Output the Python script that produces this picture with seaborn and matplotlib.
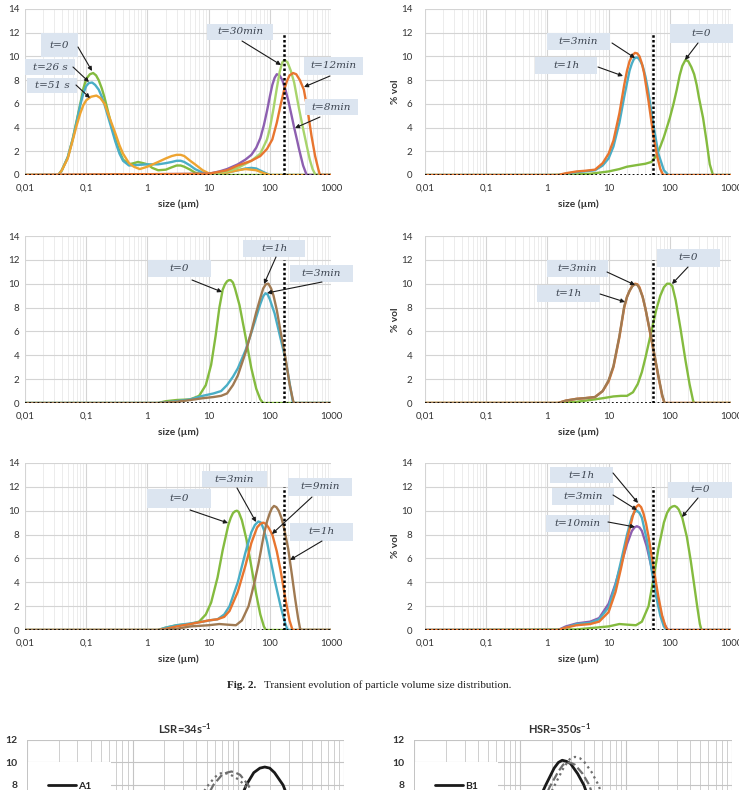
import numpy as np
import pandas as pd
import matplotlib
matplotlib.use("Agg")
import matplotlib.pyplot as plt
import seaborn as sns
from matplotlib.patches import Rectangle, FancyArrowPatch
from matplotlib.ticker import LogLocator, NullFormatter

# ---------------- data (size in µm, % vol) ----------------
xticks = [0.01, 0.1, 1, 10, 100, 1000]
xticklabels = ["0,01", "0,1", "1", "10", "100", "1000"]
yticks_top = [0, 2, 4, 6, 8, 10, 12, 14]
cut_left = 171
cut_right = 53
cut_height = 12

# Panel 1 (top-left)
p1_t0_x = [0.01, 0.035, 0.04, 0.05, 0.06, 0.07, 0.08, 0.09, 0.1, 0.115, 0.13, 0.145, 0.16, 0.18, 0.2, 0.25, 0.3, 0.35, 0.4, 0.5, 0.6, 0.7, 0.85, 1, 1.2, 1.5, 2, 2.5, 3, 3.5, 4, 5, 6, 8, 10, 1000]
p1_t0_y = [0, 0, 0.4, 1.5, 3.0, 4.6, 6.0, 7.3, 8.1, 8.5, 8.6, 8.4, 8.0, 7.3, 6.5, 4.5, 3.0, 2.0, 1.3, 0.9, 1.0, 1.1, 1.0, 0.9, 0.6, 0.4, 0.45, 0.65, 0.8, 0.8, 0.7, 0.45, 0.2, 0.05, 0, 0]
p1_t26_x = [0.01, 0.035, 0.04, 0.05, 0.06, 0.07, 0.08, 0.09, 0.1, 0.11, 0.125, 0.14, 0.16, 0.18, 0.2, 0.25, 0.3, 0.35, 0.4, 0.5, 0.7, 1, 1.5, 2, 2.5, 3, 3.5, 4, 5, 6, 8, 10, 20, 30, 40, 50, 60, 75, 100, 1000]
p1_t26_y = [0, 0, 0.4, 1.5, 3.0, 4.5, 5.9, 6.9, 7.5, 7.75, 7.8, 7.6, 7.2, 6.6, 5.9, 4.2, 2.8, 1.8, 1.2, 0.8, 0.85, 0.9, 0.9, 1.0, 1.1, 1.2, 1.2, 1.1, 0.8, 0.5, 0.2, 0.1, 0.2, 0.4, 0.55, 0.6, 0.55, 0.3, 0, 0]
p1_t51_x = [0.01, 0.035, 0.04, 0.05, 0.06, 0.07, 0.08, 0.09, 0.1, 0.12, 0.147, 0.17, 0.2, 0.25, 0.3, 0.35, 0.4, 0.5, 0.6, 0.75, 1, 1.5, 2, 2.5, 3, 3.5, 4, 5, 6, 8, 10, 20, 30, 40, 60, 80, 100, 1000]
p1_t51_y = [0, 0, 0.4, 1.4, 2.9, 4.2, 5.2, 5.9, 6.3, 6.6, 6.7, 6.5, 6.0, 4.6, 3.5, 2.5, 1.8, 1.0, 0.7, 0.5, 0.7, 1.1, 1.4, 1.6, 1.7, 1.7, 1.6, 1.2, 0.9, 0.4, 0.15, 0.2, 0.4, 0.5, 0.4, 0.15, 0, 0]
p1_t8_x = [0.01, 10, 15, 20, 30, 40, 50, 60, 70, 80, 90, 100, 110, 120, 130, 145, 160, 180, 200, 225, 250, 280, 300, 350, 400, 1000]
p1_t8_y = [0, 0.1, 0.3, 0.5, 0.9, 1.3, 1.7, 2.3, 3.1, 4.2, 5.4, 6.6, 7.6, 8.2, 8.5, 8.4, 8.0, 7.2, 6.3, 5.1, 4.0, 2.9, 2.2, 0.8, 0, 0]
p1_t12_x = [0.01, 10, 20, 30, 50, 70, 90, 110, 130, 150, 170, 190, 210, 240, 270, 310, 360, 420, 480, 550, 620, 660, 1000]
p1_t12_y = [0, 0.1, 0.4, 0.8, 1.2, 1.6, 2.2, 3.0, 4.4, 5.9, 7.1, 7.9, 8.4, 8.6, 8.5, 8.0, 7.2, 5.3, 3.3, 1.6, 0.5, 0, 0]
p1_t30_x = [0.01, 10, 20, 30, 50, 70, 90, 100, 115, 130, 145, 160, 175, 195, 220, 250, 300, 350, 400, 450, 500, 560, 1000]
p1_t30_y = [0, 0.05, 0.3, 0.6, 1.2, 1.8, 3.0, 3.9, 5.6, 7.3, 8.7, 9.5, 9.7, 9.5, 8.8, 7.8, 5.6, 3.9, 2.5, 1.3, 0.5, 0, 0]

# Panel 2 (top-right)
p2_t0_x = [0.01, 1, 3, 5, 10, 15, 20, 30, 40, 50, 60, 70, 80, 100, 115, 130, 145, 160, 180, 200, 225, 250, 275, 300, 350, 400, 450, 500, 520, 1000]
p2_t0_y = [0, 0, 0.05, 0.1, 0.3, 0.5, 0.7, 0.85, 0.95, 1.1, 1.6, 2.4, 3.2, 4.8, 6.0, 7.2, 8.4, 9.2, 9.7, 9.6, 9.1, 8.5, 7.6, 6.5, 4.8, 2.8, 0.9, 0.1, 0, 0]
p2_t3_x = [0.01, 1.5, 2, 3, 4, 6, 8, 10, 12, 15, 18, 20, 22, 24.5, 27, 29.5, 32, 35, 38, 45, 54, 62, 70, 78, 1000]
p2_t3_y = [0, 0, 0.15, 0.3, 0.35, 0.45, 1.0, 1.8, 2.9, 5.2, 7.6, 8.8, 9.6, 10.1, 10.3, 10.25, 10.0, 9.4, 8.6, 6.2, 3.3, 1.6, 0.5, 0, 0]
p2_t1h_x = [0.01, 1.5, 2, 3, 4, 6, 8, 10, 12, 15, 18, 22, 24, 26, 28, 30, 33, 36, 40, 44, 54, 65, 80, 95, 1000]
p2_t1h_y = [0, 0, 0.1, 0.25, 0.3, 0.4, 0.8, 1.4, 2.4, 4.4, 6.6, 8.8, 9.4, 9.8, 9.9, 9.9, 9.6, 9.2, 8.3, 7.2, 4.2, 1.8, 0.4, 0, 0]

# Panel 3 (middle-left)
p3_t0_x = [0.01, 1.5, 2, 3, 5, 7, 9, 11, 13, 15, 17, 18.5, 20, 21.5, 23, 25, 27, 32, 40, 50, 60, 70, 78, 1000]
p3_t0_y = [0, 0, 0.15, 0.25, 0.3, 0.6, 1.5, 3.2, 5.6, 8.0, 9.5, 9.95, 10.2, 10.3, 10.3, 10.1, 9.6, 8.2, 5.6, 2.9, 1.2, 0.3, 0, 0]
p3_t3_x = [0.01, 1.5, 3, 5, 8, 12, 16, 20, 25, 30, 40, 50, 60, 70, 78, 85, 92, 100, 120, 150, 180, 210, 240, 1000]
p3_t3_y = [0, 0, 0.15, 0.3, 0.6, 0.8, 1.0, 1.5, 2.2, 2.9, 4.4, 5.9, 7.2, 8.3, 8.95, 9.2, 9.1, 8.7, 7.5, 5.4, 3.7, 1.7, 0, 0]
p3_t1h_x = [0.01, 1.5, 3, 5, 8, 12, 16, 20, 25, 30, 40, 50, 60, 70, 78, 86, 95, 105, 115, 130, 150, 180, 210, 240, 250, 1000]
p3_t1h_y = [0, 0, 0.1, 0.25, 0.4, 0.5, 0.6, 0.8, 1.5, 2.3, 4.2, 6.0, 7.6, 8.8, 9.6, 9.95, 10.0, 9.6, 9.0, 7.8, 6.0, 3.8, 1.6, 0.2, 0, 0]

# Panel 4 (middle-right)
p4_t0_x = [0.01, 1.5, 3, 5, 8, 12, 16, 20, 25, 30, 35, 40, 50, 60, 70, 80, 90, 100, 110, 125, 150, 180, 210, 240, 250, 1000]
p4_t0_y = [0, 0, 0.1, 0.25, 0.4, 0.55, 0.6, 0.6, 0.9, 1.6, 2.6, 3.8, 6.0, 7.8, 9.0, 9.7, 10.0, 10.0, 9.8, 8.6, 6.2, 3.6, 1.6, 0.2, 0, 0]
p4_t3_x = [0.01, 1.5, 2, 3, 4, 6, 8, 10, 12, 15, 18, 20, 22, 24.5, 27, 29.5, 32, 36, 40, 48, 55, 65, 75, 82, 1000]
p4_t3_y = [0, 0, 0.2, 0.35, 0.4, 0.5, 1.0, 1.8, 3.0, 5.5, 8.0, 8.9, 9.4, 9.85, 10.0, 9.95, 9.7, 8.9, 7.9, 5.8, 4.2, 2.2, 0.6, 0, 0]
p4_t1h_x = [0.01, 1.5, 2, 3, 4, 6, 8, 10, 12, 15, 18, 20, 22, 24.5, 27, 29.5, 32, 36, 40, 48, 55, 65, 75, 82, 1000]
p4_t1h_y = [0, 0, 0.2, 0.35, 0.4, 0.5, 1.0, 1.9, 3.1, 5.6, 8.1, 8.9, 9.4, 9.8, 9.95, 9.9, 9.6, 8.9, 7.9, 5.9, 4.3, 2.3, 0.7, 0, 0]

# Panel 5 (bottom-left)
p5_t0_x = [0.01, 1.5, 2, 3, 5, 7, 9, 11, 14, 17, 21, 23, 25, 27, 29, 31, 35, 42, 50, 60, 70, 80, 86, 1000]
p5_t0_y = [0, 0, 0.2, 0.4, 0.5, 0.7, 1.3, 2.3, 4.4, 6.7, 8.8, 9.4, 9.8, 9.95, 10.0, 9.9, 9.2, 7.5, 5.3, 3.0, 1.3, 0.3, 0, 0]
p5_t3_x = [0.01, 1.5, 2, 3, 5, 8, 10, 14, 18, 22, 30, 40, 50, 57, 65, 72, 80, 90, 100, 120, 150, 175, 195, 1000]
p5_t3_y = [0, 0, 0.2, 0.4, 0.55, 0.7, 0.8, 0.9, 1.3, 2.0, 4.0, 6.5, 8.2, 8.8, 9.1, 9.0, 8.4, 7.4, 6.2, 4.2, 2.0, 0.7, 0, 0]
p5_t9_x = [0.01, 1.5, 2, 3, 5, 8, 10, 14, 18, 22, 30, 40, 50, 62, 70, 78, 86, 95, 110, 130, 150, 180, 210, 235, 1000]
p5_t9_y = [0, 0, 0.1, 0.3, 0.5, 0.7, 0.8, 0.9, 1.1, 1.6, 3.2, 5.4, 7.3, 8.6, 8.9, 9.0, 8.9, 8.6, 8.0, 6.6, 5.0, 2.6, 0.8, 0, 0]
p5_t1h_x = [0.01, 1.5, 3, 5, 10, 15, 20, 28, 35, 45, 55, 65, 80, 90, 100, 108, 117, 128, 140, 155, 170, 200, 230, 260, 290, 310, 320, 1000]
p5_t1h_y = [0, 0, 0.1, 0.3, 0.4, 0.5, 0.45, 0.4, 0.8, 2.0, 3.8, 5.5, 8.0, 9.1, 9.8, 10.2, 10.4, 10.3, 10.0, 9.4, 8.6, 6.8, 4.6, 2.6, 1.0, 0.2, 0, 0]

# Panel 6 (bottom-right)
p6_t0_x = [0.01, 3, 10, 15, 20, 28, 35, 45, 55, 65, 80, 90, 100, 110, 120, 130, 140, 160, 190, 220, 250, 280, 310, 330, 1000]
p6_t0_y = [0, 0.05, 0.3, 0.5, 0.45, 0.4, 0.7, 2.0, 4.5, 6.8, 9.0, 9.8, 10.2, 10.35, 10.4, 10.3, 10.1, 9.4, 7.8, 5.8, 3.8, 2.0, 0.5, 0, 0]
p6_t1h_x = [0.01, 1.5, 2, 3, 5, 7, 10, 13, 16, 20, 25, 28, 31, 34, 37, 41, 45, 55, 65, 75, 85, 92, 1000]
p6_t1h_y = [0, 0, 0.2, 0.4, 0.5, 0.7, 1.5, 3.2, 5.2, 7.6, 9.6, 10.3, 10.5, 10.3, 9.8, 8.9, 7.8, 5.0, 2.8, 1.2, 0.3, 0, 0]
p6_t3_x = [0.01, 1.5, 2, 3, 5, 7, 10, 13, 16, 20, 24, 26.5, 29, 32, 35, 42, 50, 60, 70, 80, 88, 1000]
p6_t3_y = [0, 0, 0.2, 0.5, 0.6, 0.9, 1.9, 3.8, 5.8, 8.0, 9.5, 9.9, 10.0, 9.8, 9.4, 7.6, 5.2, 2.8, 1.2, 0.3, 0, 0]
p6_t10_x = [0.01, 1.5, 2, 3, 5, 7, 10, 13, 16, 20, 24, 26.5, 29, 32, 35, 42, 50, 60, 70, 80, 90, 95, 1000]
p6_t10_y = [0, 0, 0.3, 0.55, 0.7, 1.0, 2.2, 3.9, 5.5, 7.2, 8.3, 8.6, 8.7, 8.6, 8.3, 7.0, 5.3, 3.2, 1.6, 0.6, 0.1, 0, 0]

# Lower figure (partially visible)
lsr_a1_x = [1, 20, 40, 60, 80, 100, 119, 140, 160, 178, 198, 220, 265, 320, 400, 500, 600, 1000]
lsr_a1_y = [0, 0, 0.5, 1.8, 4.0, 6.3, 8.0, 9.1, 9.5, 9.6, 9.5, 9.1, 8.0, 6.0, 2.8, 0.6, 0, 0]
lsr_a2_x = [1, 10, 20, 30, 45, 58, 70, 78, 86, 94, 104, 124, 150, 200, 300, 400, 1000]
lsr_a2_y = [0, 0, 0.8, 3.0, 6.0, 8.0, 8.9, 9.1, 9.2, 9.1, 8.9, 8.0, 6.5, 3.5, 0.5, 0, 0]
lsr_a3_x = [1, 10, 20, 30, 40, 50, 60, 66, 72, 79, 85, 100, 115, 150, 200, 300, 1000]
lsr_a3_y = [0, 0, 1.0, 3.8, 6.3, 7.8, 8.7, 9.0, 9.1, 9.0, 8.9, 8.5, 8.0, 6.0, 3.0, 0.3, 0]
hsr_b1_x = [1, 3, 6, 10, 14, 17.5, 21, 23, 25, 27.5, 30, 35, 40, 50, 70, 100, 1000]
hsr_b1_y = [0, 0.3, 1.0, 3.0, 6.0, 8.0, 9.5, 10.0, 10.2, 10.1, 9.9, 9.0, 8.0, 5.5, 2.0, 0, 0]
hsr_b2_x = [1, 3, 6, 10, 15, 19, 23, 25.5, 28, 30.5, 33, 39, 45, 55, 75, 110, 1000]
hsr_b2_y = [0, 0.3, 0.9, 2.6, 5.6, 7.8, 9.2, 9.8, 10.0, 9.95, 9.8, 9.0, 8.0, 5.5, 2.0, 0, 0]
hsr_b3_x = [1, 3, 6, 10, 15, 20, 26, 29.5, 33, 36.5, 40, 47, 55, 65, 85, 120, 1000]
hsr_b3_y = [0, 0.3, 0.8, 2.2, 5.0, 7.5, 9.6, 10.3, 10.5, 10.4, 10.1, 9.2, 8.0, 6.0, 2.5, 0, 0]

# colours
C_GREEN = "#84bb3f"
C_TEAL = "#4aaec6"
C_GOLD = "#eea431"
C_ORANGE = "#e8752f"
C_PURPLE = "#8d5fb0"
C_LGREEN = "#a8d46c"
C_BROWN = "#a07a52"

# ---------------- figure ----------------
W, H = 739, 790
sns.set_style("white")
plt.rcParams["font.family"] = ["Lato", "DejaVu Sans"]
plt.rcParams["mathtext.default"] = "regular"

fig = plt.figure(figsize=(W / 100, H / 100), dpi=100)


def rect(l, t, r, b):
    return [l / W, 1 - b / H, (r - l) / W, (b - t) / H]


def fp(x, y):
    return (x / W, 1 - y / H)


def setup(ax, xlim, ylim, yt, ypad, xlabels=True, bold=False):
    ax.set_xscale("log")
    ax.set_xlim(*xlim)
    ax.set_ylim(*ylim)
    ax.set_yticks(yt)
    if xlabels:
        ax.set_xticks(xticks)
        ax.set_xticklabels(xticklabels)
    ax.xaxis.set_minor_locator(LogLocator(base=10, subs=np.arange(2, 10)))
    ax.xaxis.set_minor_formatter(NullFormatter())
    ax.tick_params(which="both", length=0, labelsize=7, colors="#333333")
    ax.tick_params(axis="y", pad=ypad)
    ax.tick_params(axis="x", pad=6.5)
    if bold:
        for t in ax.get_yticklabels():
            t.set_fontweight("bold")
    ax.grid(which="major", axis="y", color="#d4d4d4", lw=0.8)
    ax.grid(which="major", axis="x", color="#d4d4d4", lw=0.8)
    ax.grid(which="minor", axis="x", color="#e9e9e9", lw=0.6)
    ax.set_axisbelow(True)
    for s in ax.spines.values():
        s.set_visible(False)
    ax.set_xlabel("")
    ax.set_ylabel("")


def curves(ax, series):
    for i, (xs, ys, c) in enumerate(series):
        sns.lineplot(x=xs, y=ys, ax=ax, color=c, linewidth=1.7,
                     estimator=None, sort=False, legend=False, zorder=3 + i * 0.1)


def refs(ax, cut):
    ax.axhline(0, color="black", lw=1.3, ls=(0, (1, 1.3)), zorder=6)
    ax.vlines(cut, 0, cut_height, color="black", lw=1.8, ls=(0, (1, 0.9)), zorder=6)


panels = [
    (rect(25, 9, 331, 175), cut_left, 4, [
        (p1_t0_x, p1_t0_y, C_GREEN), (p1_t26_x, p1_t26_y, C_TEAL), (p1_t51_x, p1_t51_y, C_GOLD),
        (p1_t8_x, p1_t8_y, C_PURPLE), (p1_t30_x, p1_t30_y, C_LGREEN), (p1_t12_x, p1_t12_y, C_ORANGE)]),
    (rect(425, 9, 731, 175), cut_right, 9, [
        (p2_t0_x, p2_t0_y, C_GREEN), (p2_t1h_x, p2_t1h_y, C_TEAL), (p2_t3_x, p2_t3_y, C_ORANGE)]),
    (rect(25, 236, 331, 403), cut_left, 4, [
        (p3_t0_x, p3_t0_y, C_GREEN), (p3_t3_x, p3_t3_y, C_TEAL), (p3_t1h_x, p3_t1h_y, C_BROWN)]),
    (rect(425, 236, 731, 403), cut_right, 9, [
        (p4_t0_x, p4_t0_y, C_GREEN), (p4_t3_x, p4_t3_y, C_ORANGE), (p4_t1h_x, p4_t1h_y, C_BROWN)]),
    (rect(25, 463, 331, 630), cut_left, 4, [
        (p5_t0_x, p5_t0_y, C_GREEN), (p5_t3_x, p5_t3_y, C_TEAL), (p5_t9_x, p5_t9_y, C_ORANGE),
        (p5_t1h_x, p5_t1h_y, C_BROWN)]),
    (rect(425, 463, 731, 630), cut_right, 9, [
        (p6_t0_x, p6_t0_y, C_GREEN), (p6_t10_x, p6_t10_y, C_PURPLE), (p6_t3_x, p6_t3_y, C_TEAL),
        (p6_t1h_x, p6_t1h_y, C_ORANGE)]),
]

for pos, cut, ypad, series in panels:
    ax = fig.add_axes(pos)
    setup(ax, (0.01, 1000), (0, 14), yticks_top, ypad)
    curves(ax, series)
    refs(ax, cut)
    ax.set_xlabel("")
    ax.set_ylabel("")

# axis titles
for yc in (204, 432, 659):
    fig.text(*fp(178, yc), "size (µm)", ha="center", va="center", fontsize=7.3, fontweight="bold", color="#333")
    fig.text(*fp(578, yc), "size (µm)", ha="center", va="center", fontsize=7.3, fontweight="bold", color="#333")
for yc in (92, 320, 546):
    fig.text(*fp(395, yc), "% vol", ha="center", va="center", rotation=90, fontsize=7.3, fontweight="bold", color="#333")

# annotation boxes: text, (l, t, r, b), arrow start, arrow end
notes = [
    ("t=0", (41, 33, 78, 57), (78, 47), (92, 71)),
    ("t=26 s", (25, 59, 75, 75), (73, 67), (89, 82)),
    ("t=51 s", (27, 78, 77, 93), (76, 85), (90, 98)),
    ("t=30min", (207, 24, 273, 40), (242, 41), (281, 65)),
    ("t=12min", (304, 57, 363, 75), (330, 76), (304, 87)),
    ("t=8min", (305, 99, 358, 115), (320, 117), (295, 128)),
    ("t=3min", (547, 33, 610, 50), (612, 43), (635, 58)),
    ("t=1h", (535, 57, 597, 74), (598, 67), (623, 76)),
    ("t=0", (670, 24, 733, 43), (698, 43), (685, 60)),
    ("t=0", (148, 260, 211, 277), (192, 280), (222, 292)),
    ("t=1h", (243, 240, 305, 257), (276, 257), (264, 284)),
    ("t=3min", (290, 265, 353, 282), (322, 282), (267, 293)),
    ("t=3min", (547, 260, 608, 277), (607, 272), (635, 285)),
    ("t=1h", (537, 285, 600, 302), (600, 294), (625, 302)),
    ("t=0", (657, 249, 720, 267), (688, 267), (672, 284)),
    ("t=0", (147, 489, 211, 508), (190, 510), (228, 523)),
    ("t=3min", (202, 471, 267, 487), (237, 488), (256, 522)),
    ("t=9min", (288, 478, 352, 496), (312, 497), (272, 534)),
    ("t=1h", (290, 523, 353, 541), (322, 541), (290, 560)),
    ("t=1h", (550, 467, 613, 483), (613, 473), (638, 503)),
    ("t=3min", (552, 488, 614, 505), (613, 495), (637, 510)),
    ("t=10min", (546, 515, 609, 532), (608, 522), (635, 527)),
    ("t=0", (668, 482, 732, 498), (698, 498), (682, 517)),
]
for txt, (l, t, r, b), a0, a1 in notes:
    x0, y0 = fp(l, b)
    fig.add_artist(Rectangle((x0, y0), (r - l) / W, (b - t) / H, transform=fig.transFigure,
                             facecolor="#dce5f0", edgecolor="none", zorder=10))
    fig.text(*fp((l + r) / 2, (t + b) / 2), txt, ha="center", va="center", fontsize=7.5,
             family="DejaVu Serif", style="italic", color="#3c4450", zorder=11)
    fig.add_artist(FancyArrowPatch(fp(*a0), fp(*a1), transform=fig.transFigure,
                                   arrowstyle="-|>", mutation_scale=6, lw=0.8,
                                   color="#1a1a1a", zorder=12, shrinkA=0, shrinkB=0))

# caption
fig.text(*fp(227, 685), "Fig. 2.", ha="left", va="center", fontsize=8, fontweight="bold",
         family="Liberation Serif", color="#222")
fig.text(*fp(264, 685), "Transient evolution of particle volume size distribution.", ha="left",
         va="center", fontsize=8, family="Liberation Serif", color="#222")

# lower figure (cut by the page edge)
lower = [
    (rect(27, 740, 344, 875), "LSR=34s$^{-1}$", 185, ["A1", "A2", "A3"],
     [(lsr_a1_x, lsr_a1_y), (lsr_a2_x, lsr_a2_y), (lsr_a3_x, lsr_a3_y)], (28, 762)),
    (rect(414, 740, 732, 875), "HSR=350s$^{-1}$", 560, ["B1", "B2", "B3"],
     [(hsr_b1_x, hsr_b1_y), (hsr_b2_x, hsr_b2_y), (hsr_b3_x, hsr_b3_y)], (415, 762)),
]
styles = [("-", "#1a1a1a", 2.0), ("--", "#6e6e6e", 1.6), (":", "#6e6e6e", 1.6)]
for pos, title, tx, names, data, legpos in lower:
    ax = fig.add_axes(pos)
    setup(ax, (1, 1000), (0, 12), [0, 2, 4, 6, 8, 10, 12], 7, xlabels=False, bold=True)
    ax.tick_params(labelsize=7.5)
    ax.grid(which="minor", axis="x", color="#cfcfcf", lw=0.7)
    ax.grid(which="major", axis="both", color="#c4c4c4", lw=0.8)
    ax.set_xticklabels([])
    for (xs, ys), name, (ls, c, lw) in zip(data, names, styles):
        sns.lineplot(x=xs, y=ys, ax=ax, color=c, linewidth=lw, linestyle=ls, estimator=None,
                     sort=False, label=name)
    leg = ax.legend(loc="upper left", bbox_to_anchor=fp(*legpos), bbox_transform=fig.transFigure,
                    frameon=True, fontsize=7.5, handlelength=2.7, borderpad=1.9, handletextpad=0.2,
                    borderaxespad=0, fancybox=False)
    leg.get_frame().set_facecolor("white")
    leg.get_frame().set_edgecolor("none")
    leg.get_frame().set_alpha(1)
    for t in leg.get_texts():
        t.set_fontweight("bold")
    ax.set_xlabel("")
    ax.set_ylabel("")
    fig.text(*fp(tx, 729), title, ha="center", va="center", fontsize=8, fontweight="bold", color="#333")

fig.savefig("out.png", dpi=100)
